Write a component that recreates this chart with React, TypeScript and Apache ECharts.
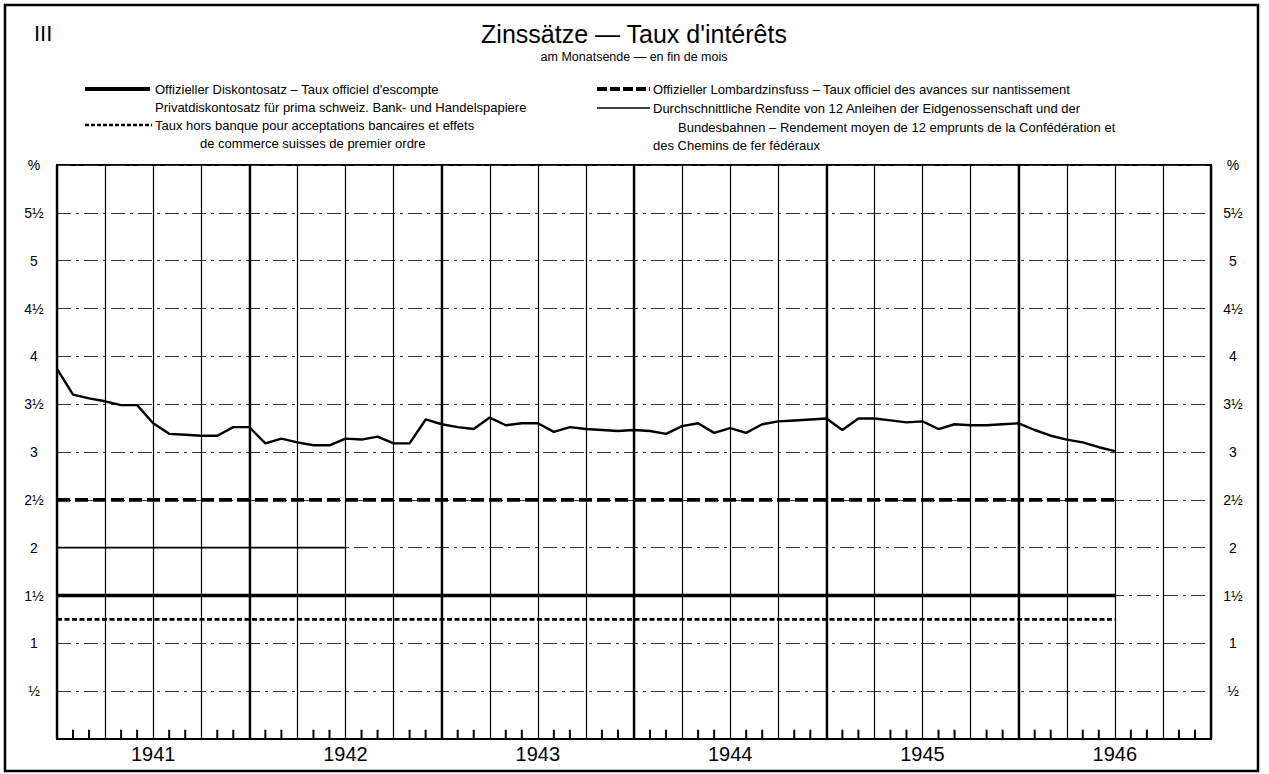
import React, { useEffect, useRef } from "react";
import * as echarts from "echarts";

// Months counted from end of December 1940 (0) to end of 1946 (72)
const yearLabels = ["1941", "1942", "1943", "1944", "1945", "1946"];
const monthsShown = 72;

// Durchschnittliche Rendite (end of month, from Dec 1940 to Jun 1946)
const renditeValues = [
  3.87, 3.6, 3.56, 3.53, 3.49, 3.49, 3.3, 3.19, 3.18, 3.17, 3.17, 3.26,
  3.26, 3.09, 3.14, 3.1, 3.07, 3.07, 3.14, 3.13, 3.16, 3.09, 3.09, 3.34,
  3.29, 3.26, 3.24, 3.36, 3.28, 3.3, 3.3, 3.21, 3.26, 3.24, 3.23, 3.22,
  3.23, 3.22, 3.19, 3.27, 3.3, 3.2, 3.25, 3.2, 3.29, 3.32, 3.33, 3.34,
  3.35, 3.23, 3.35, 3.35, 3.33, 3.31, 3.32, 3.24, 3.29, 3.28, 3.28, 3.29,
  3.3, 3.23, 3.17, 3.13, 3.1, 3.05, 3.01,
];
// Official discount rate, Lombard rate, private discount rate (constant)
const diskontValues = Array.from({ length: 67 }, () => 1.5);
const lombardValues = Array.from({ length: 67 }, () => 2.5);
const privatValues = Array.from({ length: 67 }, () => 1.25);
// thin line at 2 % until mid-1942
const zweiValues = Array.from({ length: 19 }, () => 2);
// monthly tick marks on the time axis (months not on a quarter line)
const monthTicks = Array.from({ length: monthsShown }, (_, i) => i).filter((m) => m % 3 !== 0);

const yTickLabels: Record<string, string> = {
  "0.5": "½", "1": "1", "1.5": "1½", "2": "2", "2.5": "2½", "3": "3",
  "3.5": "3½", "4": "4", "4.5": "4½", "5": "5", "5.5": "5½", "6": "%",
};

const FONT = '"Liberation Sans", Arial, sans-serif';

const toPoints = (vals: number[]) => vals.map((v, i) => [i, v]);

export default function App() {
  const ref = useRef<HTMLDivElement>(null);
  useEffect(() => {
    if (!ref.current) return;
    const chart = echarts.init(ref.current, undefined, { renderer: "svg" });
    const txt = (text: string, x: number, y: number, size: number, align = "left") => ({
      type: "text",
      x,
      y,
      style: {
        text,
        fill: "#000",
        font: `${size}px ${FONT}`,
        textAlign: align,
        textVerticalAlign: "middle",
      },
    });
    const seg = (x1: number, x2: number, y: number, w: number, dash?: number[]) => ({
      type: "line",
      shape: { x1, y1: y, x2, y2: y },
      style: { stroke: "#000", lineWidth: w, lineDash: dash },
    });
    const yLab = (v: number) => yTickLabels[String(v)] ?? "";
    chart.setOption({
      animation: false,
      backgroundColor: "#fff",
      grid: {
        left: 57,
        top: 165,
        width: 1154,
        height: 574,
        show: true,
        borderColor: "#000",
        borderWidth: 2,
      },
      xAxis: [
        {
          type: "value",
          min: 0,
          max: monthsShown,
          interval: 3,
          axisLine: { show: true, lineStyle: { color: "#000", width: 2 } },
          axisTick: { show: false },
          axisLabel: {
            margin: 5,
            fontSize: 20,
            fontFamily: FONT,
            color: "#000",
            formatter: (v: number) =>
              v % 12 === 6 ? yearLabels[Math.floor(v / 12)] ?? "" : "",
          },
          splitLine: { show: true, lineStyle: { color: "#000", width: 1.2 } },
        },
        {
          type: "value",
          min: 0,
          max: monthsShown,
          interval: 12,
          position: "bottom",
          axisLine: { show: false },
          axisTick: { show: false },
          axisLabel: { show: false },
          splitLine: { show: true, lineStyle: { color: "#000", width: 2.4 } },
        },
      ],
      yAxis: [
        {
          type: "value",
          min: 0,
          max: 6,
          interval: 0.5,
          axisLine: { show: true, lineStyle: { color: "#000", width: 2 } },
          axisTick: { show: false },
          axisLabel: {
            align: "center",
            margin: 23,
            fontSize: 14,
            fontFamily: FONT,
            color: "#000",
            formatter: yLab,
          },
          splitLine: {
            show: true,
            lineStyle: { color: "#333", width: 1, type: [14, 5, 3, 5] },
          },
        },
        {
          type: "value",
          min: 0,
          max: 6,
          interval: 0.5,
          position: "right",
          axisLine: { show: true, lineStyle: { color: "#000", width: 2 } },
          axisTick: { show: false },
          axisLabel: {
            align: "center",
            margin: 22,
            fontSize: 14,
            fontFamily: FONT,
            color: "#000",
            formatter: yLab,
          },
          splitLine: { show: false },
        },
      ],
      series: [
        {
          name: "Monatsmarken",
          type: "scatter",
          xAxisIndex: 0,
          yAxisIndex: 0,
          data: monthTicks.map((m) => [m, 0.05]),
          symbol: "rect",
          symbolSize: [2, 9],
          itemStyle: { color: "#000", opacity: 1 },
          silent: true,
          z: 10,
        },
        {
          name: "Offizieller Diskontosatz",
          type: "line",
          data: toPoints(diskontValues),
          symbol: "none",
          lineStyle: { color: "#000", width: 3.6 },
        },
        {
          name: "Offizieller Lombardzinsfuss",
          type: "line",
          data: toPoints(lombardValues),
          symbol: "none",
          lineStyle: { color: "#000", width: 3.6, type: [13, 5] },
        },
        {
          name: "Privatdiskontosatz",
          type: "line",
          data: toPoints(privatValues),
          symbol: "none",
          lineStyle: { color: "#000", width: 2.6, type: [5, 2.5] },
        },
        {
          name: "2 %",
          type: "line",
          data: toPoints(zweiValues),
          symbol: "none",
          lineStyle: { color: "#000", width: 1.6 },
        },
        {
          name: "Durchschnittliche Rendite",
          type: "line",
          data: toPoints(renditeValues),
          symbol: "none",
          lineStyle: { color: "#000", width: 2.4 },
        },
      ],
      graphic: [
        {
          type: "rect",
          shape: { x: 5, y: 5, width: 1253, height: 766 },
          style: { fill: "none", stroke: "#000", lineWidth: 2.5 },
        },
        txt("III", 34, 33, 22),
        txt("Zinssätze — Taux d'intérêts", 634, 34, 25, "center"),
        txt("am Monatsende — en fin de mois", 634, 57, 12.5, "center"),
        seg(85, 150, 89, 4),
        txt("Offizieller Diskontosatz – Taux officiel d'escompte", 155, 89, 13),
        txt("Privatdiskontosatz für prima schweiz. Bank- und Handelspapiere", 155, 107, 13),
        seg(85, 152, 125, 2.6, [4, 2]),
        txt("Taux hors banque pour acceptations bancaires et effets", 155, 125, 13),
        txt("de commerce suisses de premier ordre", 200, 143, 13),
        seg(597, 650, 89, 4, [10, 3]),
        txt("Offizieller Lombardzinsfuss – Taux officiel des avances sur nantissement", 653, 89, 13),
        seg(597, 650, 108, 1.3),
        txt("Durchschnittliche Rendite von 12 Anleihen der Eidgenossenschaft und der", 653, 108, 13),
        txt("Bundesbahnen – Rendement moyen de 12 emprunts de la Confédération et", 678, 127, 13),
        txt("des Chemins de fer fédéraux", 653, 145, 13),
      ],
    });
    return () => chart.dispose();
  }, []);
  return (
    <div
      ref={ref}
      style={{ position: "fixed", left: 0, top: 0, width: 1269, height: 774, background: "#fff" }}
    />
  );
}
